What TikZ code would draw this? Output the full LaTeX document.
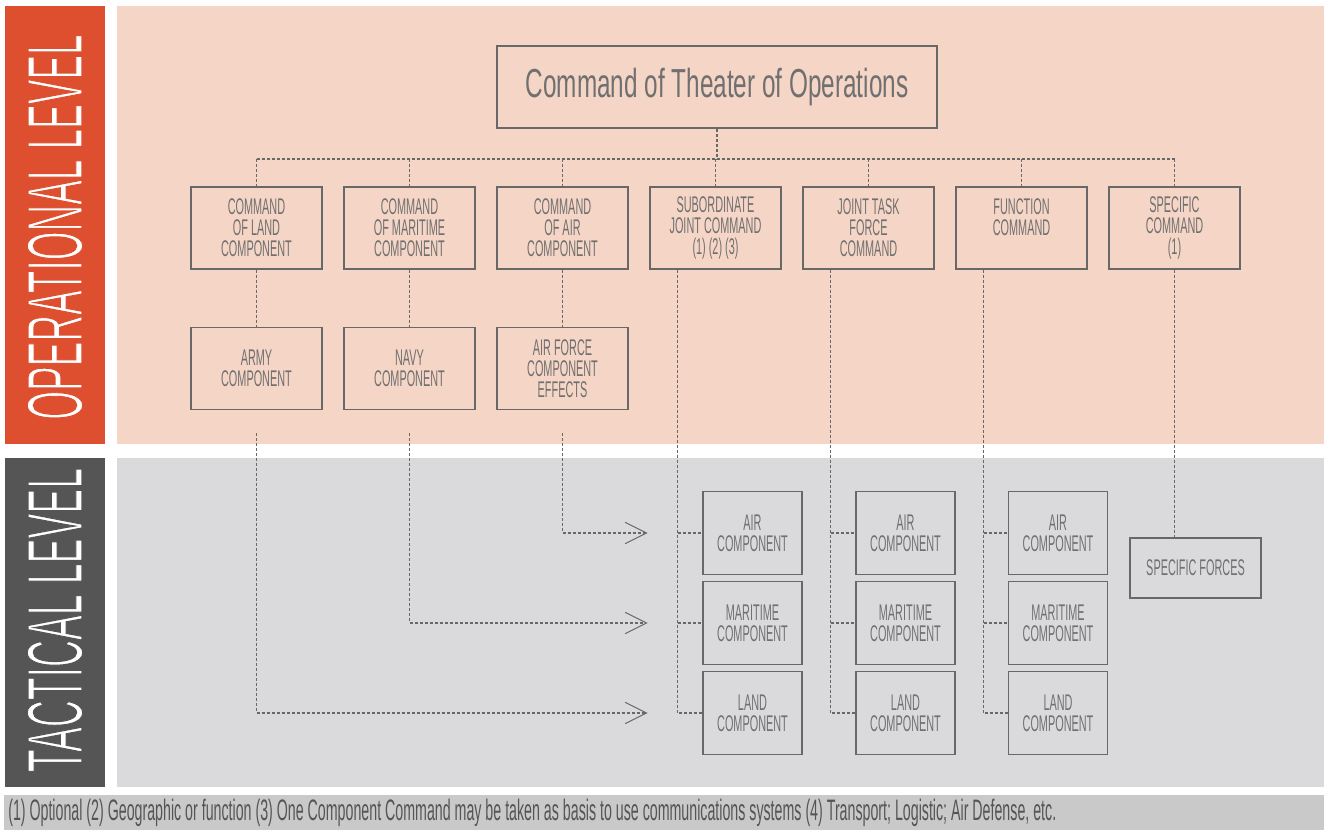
\documentclass[tikz,border=0pt]{standalone}
\usepackage{fontspec}
\setmainfont{Liberation Sans}
\newfontfamily\boxfont{Liberation Sans}[FakeStretch=0.48]
\newfontfamily\titlefont{Liberation Sans}[FakeStretch=0.6]
\usetikzlibrary{arrows.meta}

\definecolor{opred}{HTML}{DD4F2F}
\definecolor{oppeach}{HTML}{F5D5C5}
\definecolor{tacdark}{HTML}{555555}
\definecolor{tacgray}{HTML}{DADADC}
\definecolor{notegray}{HTML}{C9C9C9}
\definecolor{boxline}{HTML}{686868}
\definecolor{boxtext}{HTML}{707070}

% thin white lettering: glyphs stroked in the band colour
\newcommand{\thinlabel}[3]{%
	\special{pdf:literal 2 Tr #1 RG #2 w}#3\special{pdf:literal 0 Tr}}

\begin{document}
\begin{tikzpicture}[x = 0.75pt, y = -0.75pt,
	> = {Straight Barb[length = 16pt, width = 16pt, line width = 0.8pt]},
	unit/.style = {draw = boxline, line width = 1pt, text = boxtext, align = center,
		minimum width = 98.25pt, minimum height = 61.5pt, inner sep = 0pt,
		font = \boxfont\fontsize{17}{15.75}\selectfont},
	tacunit/.style = {unit, minimum width = 74.25pt, minimum height = 62.25pt},
	link/.style = {draw = boxline, line width = 1pt, dash pattern = on 2.25pt off 1.5pt}]

	\useasboundingbox (0, 0) rectangle (1324, 830);

	% Level bands

	\fill [opred] (5, 6) rectangle (105, 444);
	\fill [oppeach] (117, 6) rectangle (1324, 444);
	\fill [tacdark] (5, 458) rectangle (105, 787);
	\fill [tacgray] (117, 458) rectangle (1324, 787);
	\fill [notegray] (4, 795) rectangle (1324, 830);

	\node [rotate = 90, text = white, inner sep = 0pt] (op-label) at (55, 227)
		{\resizebox{289pt}{41pt}{\boxfont\thinlabel{0.867 0.310 0.184}{0.12}{OPERATIONAL LEVEL}}};
	\node [rotate = 90, text = white, inner sep = 0pt] (tac-label) at (55, 620)
		{\resizebox{228pt}{41pt}{\boxfont\thinlabel{0.333 0.333 0.333}{0.12}{TACTICAL LEVEL}}};

	% Operational level

	\node [unit, minimum width = 330pt] (theater) at (717, 87)
		{\raisebox{-1.5pt}{\titlefont\fontsize{30.4}{30}\selectfont Command of Theater of Operations}};
	\coordinate (bus) at (717, 159);

	\node [unit] (cland) at (256.5, 228) {COMMAND\\OF LAND\\COMPONENT};
	\node [unit] (cmar) at (409.5, 228) {COMMAND\\OF MARITIME\\COMPONENT};
	\node [unit] (cair) at (562.5, 228) {COMMAND\\OF AIR\\COMPONENT};
	\node [unit] (subj) at (715.5, 228) {SUBORDINATE\\JOINT COMMAND\\(1) (2) (3)};
	\node [unit] (jtf) at (868.5, 228) {JOINT TASK\\FORCE\\COMMAND};
	\node [unit] (func) at (1021.5, 228) {FUNCTION\\COMMAND\\\mbox{}};
	\node [unit] (spec) at (1174.5, 228) {SPECIFIC\\COMMAND\\(1)};

	\node [unit] (army) at (256.5, 368.5) {ARMY\\COMPONENT};
	\node [unit] (navy) at (409.5, 368.5) {NAVY\\COMPONENT};
	\node [unit] (afce) at (562.5, 368.5) {AIR FORCE\\COMPONENT\\EFFECTS};

	\draw [link] (theater.south) -- (bus);
	\draw [link] (cland.north |- bus) -- (spec.north |- bus);
	\foreach \cmd in {cland, cmar, cair, subj, jtf, func, spec}
		\draw [link] (\cmd.north |- bus) -- (\cmd.north);

	\draw [link] (cland) -- (army);
	\draw [link] (cmar) -- (navy);
	\draw [link] (cair) -- (afce);

	% Tactical level

	\node [tacunit] (airA) at (752.5, 533) {AIR\\COMPONENT};
	\node [tacunit] (marA) at (752.5, 623) {MARITIME\\COMPONENT};
	\node [tacunit] (landA) at (752.5, 713) {LAND\\COMPONENT};

	\node [tacunit] (airB) at (905.5, 533) {AIR\\COMPONENT};
	\node [tacunit] (marB) at (905.5, 623) {MARITIME\\COMPONENT};
	\node [tacunit] (landB) at (905.5, 713) {LAND\\COMPONENT};

	\node [tacunit] (airC) at (1058, 533) {AIR\\COMPONENT};
	\node [tacunit] (marC) at (1058, 623) {MARITIME\\COMPONENT};
	\node [tacunit] (landC) at (1058, 713) {LAND\\COMPONENT};

	\node [unit, minimum height = 45pt] (sforces) at (1195.5, 568) {SPECIFIC FORCES};

	\draw [link] ([xshift = -28.5pt] subj.south) |- (landA.west);
	\draw [link] ([xshift = -28.5pt] subj.south |- airA.west) -- (airA.west);
	\draw [link] ([xshift = -28.5pt] subj.south |- marA.west) -- (marA.west);

	\draw [link] ([xshift = -28.5pt] jtf.south) |- (landB.west);
	\draw [link] ([xshift = -28.5pt] jtf.south |- airB.west) -- (airB.west);
	\draw [link] ([xshift = -28.5pt] jtf.south |- marB.west) -- (marB.west);

	\draw [link] ([xshift = -28.5pt] func.south) |- (landC.west);
	\draw [link] ([xshift = -28.5pt] func.south |- airC.west) -- (airC.west);
	\draw [link] ([xshift = -28.5pt] func.south |- marC.west) -- (marC.west);

	\draw [link] (spec.south) -- (spec.south |- sforces.north);

	% Component arrows

	\draw [link, ->] ([yshift = -17.25pt] army.south) |- ([xshift = -41pt] landA.west);
	\draw [link, ->] ([yshift = -17.25pt] navy.south) |- ([xshift = -41pt] marA.west);
	\draw [link, ->] ([yshift = -17.25pt] afce.south) |- ([xshift = -41pt] airA.west);

	% Notes

	\node [anchor = west, inner sep = 0pt, text = tacdark] (notes) at (8, 813)
		{\resizebox{786pt}{!}{\boxfont (1) Optional (2) Geographic or function (3) One Component Command may be taken as basis to use communications systems (4) Transport; Logistic; Air Defense, etc.}};

\end{tikzpicture}
\end{document}
